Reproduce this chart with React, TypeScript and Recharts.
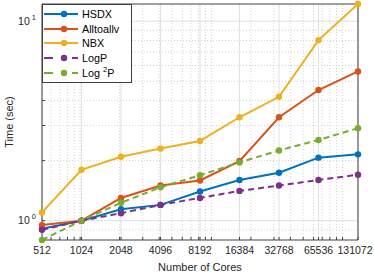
import { LineChart, Line, XAxis, YAxis, ReferenceLine } from 'recharts'

const cores = [512, 1024, 2048, 4096, 8192, 16384, 32768, 65536, 131072]
const hsdx = [0.91, 1.0, 1.14, 1.2, 1.4, 1.6, 1.74, 2.07, 2.15]
const alltoallv = [0.95, 1.0, 1.3, 1.5, 1.59, 1.99, 3.3, 4.52, 5.6]
const nbx = [1.1, 1.8, 2.09, 2.3, 2.51, 3.3, 4.18, 8.04, 12.2]
const logP = [0.9, 1.0, 1.09, 1.2, 1.3, 1.41, 1.5, 1.6, 1.7]
const log2P = [0.8, 1.0, 1.23, 1.47, 1.69, 1.96, 2.25, 2.54, 2.91]

const yMajor = [1, 10]
const yMinor = [0.9, 2, 3, 4, 5, 6, 7, 8, 9]
const xMinor = [
  600, 700, 800, 900, 1000, 2000, 3000, 4000, 5000, 6000, 7000, 8000, 9000,
  10000, 20000, 30000, 40000, 50000, 60000, 70000, 80000, 90000, 100000,
]

const data = cores.map((c, i) => ({
  cores: c,
  hsdx: hsdx[i],
  alltoallv: alltoallv[i],
  nbx: nbx[i],
  logP: logP[i],
  log2P: log2P[i],
}))

const FONT = '"Liberation Sans", Arial, sans-serif'
const AXIS = '#404040'
const TEXT = '#262626'

const series = [
  { key: 'hsdx', name: 'HSDX', color: '#0072BD', dash: undefined as string | undefined },
  { key: 'alltoallv', name: 'Alltoallv', color: '#D95319', dash: undefined },
  { key: 'nbx', name: 'NBX', color: '#EDB120', dash: undefined },
  { key: 'logP', name: 'LogP', color: '#7E2F8E', dash: '6 4' },
  { key: 'log2P', name: 'Log2P', color: '#77AC30', dash: '6 4' },
]

const allXTicks = [...cores, ...xMinor].sort((a, b) => a - b)
const allYTicks = [...yMinor, ...yMajor].sort((a, b) => a - b)

function XTick(props: any) {
  const { x, y, payload } = props
  if (!cores.includes(payload.value)) return null
  // the last label sits against the page edge, nudge it in like the original
  const dx = payload.value === cores[cores.length - 1] ? -3 : 0
  return (
    <text x={x + dx} y={y} dy="0.71em" textAnchor="middle" fontSize={10.5} fill={TEXT} fontFamily={FONT}>
      {payload.value}
    </text>
  )
}

function YTick(props: any) {
  const { x, y, payload } = props
  if (!yMajor.includes(payload.value)) return null
  const exp = Math.round(Math.log10(payload.value))
  return (
    <text x={x} y={y} dy="0.355em" textAnchor="end" fontSize={10.5} fill={TEXT} fontFamily={FONT}>
      10
      <tspan dy={-5} fontSize={7.5}> {exp}</tspan>
    </text>
  )
}

function LegendBox() {
  return (
    <div
      style={{
        position: 'absolute',
        left: 42,
        top: 4,
        width: 90,
        height: 79,
        background: '#fff',
        border: `1px solid ${AXIS}`,
        boxSizing: 'border-box',
        paddingTop: 2,
        fontFamily: FONT,
        fontSize: 10.8,
        color: '#000',
      }}
    >
      {series.map((s) => (
        <div key={s.key} style={{ height: 14.6, display: 'flex', alignItems: 'center' }}>
          <svg width={39} height={10} style={{ flex: 'none' }}>
            {s.dash ? (
              <>
                <line x1={1} x2={10} y1={5} y2={5} stroke={s.color} strokeWidth={2} />
                <line x1={29} x2={35} y1={5} y2={5} stroke={s.color} strokeWidth={2} />
              </>
            ) : (
              <line x1={1} x2={35} y1={5} y2={5} stroke={s.color} strokeWidth={2} />
            )}
            <circle cx={21} cy={5} r={3.2} fill={s.color} />
          </svg>
          <span style={{ whiteSpace: 'nowrap' }}>
            {s.key === 'log2P' ? (
              <>
                Log <sup style={{ fontSize: 7.5, lineHeight: 0 }}>2</sup>P
              </>
            ) : (
              s.name
            )}
          </span>
        </div>
      ))}
    </div>
  )
}

export default function App() {
  return (
    <div style={{ position: 'absolute', left: 0, top: 0, width: 374, height: 273, background: '#fff' }}>
      <LineChart width={374} height={273} data={data} margin={{ top: 0, right: 0, bottom: 0, left: 0 }}>
        {yMinor.map((v) => (
          <ReferenceLine key={'ym' + v} y={v} stroke="#c8c8c8" strokeDasharray="1 2" strokeWidth={0.8} />
        ))}
        {xMinor.map((v) => (
          <ReferenceLine key={'xm' + v} x={v} stroke="#c8c8c8" strokeDasharray="1 2" strokeWidth={0.8} />
        ))}
        {yMajor.map((v) => (
          <ReferenceLine key={'yM' + v} y={v} stroke="#e0e0e0" strokeWidth={1} />
        ))}
        {cores.map((v) => (
          <ReferenceLine key={'xM' + v} x={v} stroke="#e0e0e0" strokeWidth={1} />
        ))}
        <XAxis
          dataKey="cores"
          type="number"
          scale="log"
          domain={[512, 131072]}
          ticks={allXTicks}
          interval={0}
          height={33}
          tickSize={-3}
          tickMargin={10}
          tick={<XTick />}
          stroke={AXIS}
          label={{ value: 'Number of Cores', position: 'insideBottom', offset: 2, fontSize: 11, fill: TEXT, fontFamily: FONT }}
        />
        <XAxis
          xAxisId="top"
          orientation="top"
          dataKey="cores"
          type="number"
          scale="log"
          domain={[512, 131072]}
          ticks={allXTicks}
          interval={0}
          height={4}
          tickSize={-3}
          tick={false}
          stroke={AXIS}
        />
        <YAxis
          type="number"
          scale="log"
          domain={[0.8, 12.2]}
          ticks={allYTicks}
          interval={0}
          width={42}
          tickSize={-3}
          tickMargin={9}
          tick={<YTick />}
          stroke={AXIS}
          label={{ value: 'Time (sec)', angle: -90, position: 'insideLeft', offset: 9, fontSize: 11, fill: TEXT, fontFamily: FONT, style: { textAnchor: 'middle' } }}
        />
        <YAxis
          yAxisId="right"
          orientation="right"
          type="number"
          scale="log"
          domain={[0.8, 12.2]}
          ticks={allYTicks}
          interval={0}
          width={16}
          tickSize={-3}
          tick={false}
          stroke={AXIS}
        />
        {series.map((s) => (
          <Line
            key={s.key}
            dataKey={s.key}
            name={s.name}
            stroke={s.color}
            strokeWidth={2}
            strokeDasharray={s.dash}
            dot={{ r: 3.2, fill: s.color, stroke: s.color, strokeWidth: 0 }}
            isAnimationActive={false}
          />
        ))}
      </LineChart>
      <LegendBox />
    </div>
  )
}
